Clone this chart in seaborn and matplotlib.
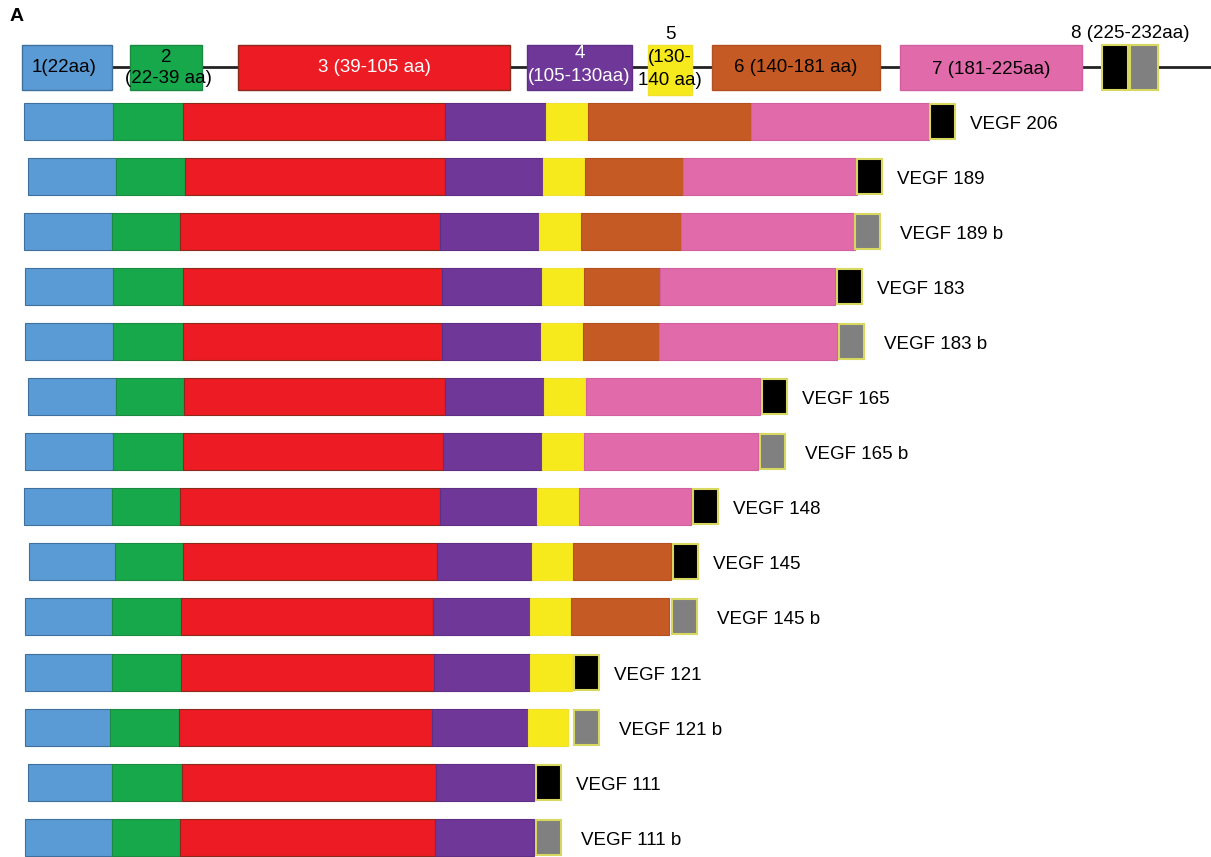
import numpy as np
import matplotlib
matplotlib.use("Agg")
import matplotlib.pyplot as plt
import seaborn as sns

# exon map (top row): labels, drawn start/length in the picture's scale
exon_names = ["1(22aa)", "2\n(22-39 aa)", "3 (39-105 aa)", "4\n(105-130aa)",
              "5", "6 (140-181 aa)", "7 (181-225aa)", "8 (225-232aa)"]
exon_start = [22, 130, 238, 527, 648, 712, 900, 1102]
exon_len = [90, 72, 272, 105, 44, 168, 182, 56]

# isoforms
isoforms = ["VEGF 206", "VEGF 189", "VEGF 189 b", "VEGF 183", "VEGF 183 b",
            "VEGF 165", "VEGF 165 b", "VEGF 148", "VEGF 145", "VEGF 145 b",
            "VEGF 121", "VEGF 121 b", "VEGF 111", "VEGF 111 b"]
len_e1 = [89, 88, 88, 88, 88, 88, 88, 88, 86, 87, 87, 85, 84, 87]
len_e2 = [70, 69, 68, 70, 70, 68, 70, 68, 68, 69, 69, 69, 70, 68]
len_e3 = [262, 260, 260, 259, 259, 261, 260, 260, 254, 252, 253, 253, 254, 255]
len_e4 = [101, 98, 99, 100, 99, 99, 99, 97, 95, 97, 96, 96, 98, 99]
len_e5 = [42, 42, 42, 42, 42, 42, 42, 42, 41, 41, 42, 40, 0, 0]
len_e6 = [163, 98, 100, 76, 76, 0, 0, 0, 98, 98, 0, 0, 0, 0]
len_e7 = [178, 174, 174, 175, 178, 174, 174, 112, 0, 0, 0, 0, 0, 0]
terminal = ["a", "a", "b", "a", "b", "a", "b", "a", "a", "b", "a", "b", "a", "b"]
term_gap = [1, 0, 0, 2, 2, 2, 2, 2, 2, 3, 2, 6, 2, 2]
row_start = [24, 28, 24, 25, 25, 28, 25, 24, 29, 25, 25, 25, 28, 25]

colors = ["#5b9bd5", "#17a84b", "#ed1c24", "#6f3798", "#f7ea1c",
          "#c55a24", "#e06aaa"]
edges = ["#3f6f9c", "#1c8a40", "#8a2a1c", "#5e2f85", "#f0e030",
         "#b35020", "#d060a0"]
term_color = {"a": "#000000", "b": "#808080"}

sns.set_theme(style="white")
plt.rcParams["font.family"] = ["Liberation Sans", "DejaVu Sans"]
plt.rcParams["text.color"] = "black"

fig = plt.figure(figsize=(12.11, 8.57), dpi=100)
ax = fig.add_axes([0, 0, 1, 1])
ax.set_xlim(0, 1211)
ax.set_ylim(857, 0)
ax.axis("off")

# top gene map
top_y = 67
ax.plot([112, 1211], [top_y, top_y], color="#222222", lw=2, zorder=1)
for i, name in enumerate(exon_names[:7]):
    h = 50 if i == 4 else 45
    ax.barh(top_y + (2.5 if i == 4 else 0), exon_len[i], left=exon_start[i],
            height=h, color=colors[i], edgecolor=edges[i], lw=1, zorder=2)
ax.barh(top_y, 26, left=exon_start[7], height=45, color="black",
        edgecolor="#d8d860", lw=1.5, zorder=2)
ax.barh(top_y, 28, left=exon_start[7] + 28, height=45, color="#808080",
        edgecolor="#d8d860", lw=1.5, zorder=2)

fs = 13.5
cx = [s + l / 2 for s, l in zip(exon_start, exon_len)]
ax.text(cx[0] - 3, top_y, exon_names[0], ha="center", va="center", fontsize=fs)
ax.text(cx[1], 57, "2", ha="center", va="center", fontsize=fs)
ax.text(cx[1] + 2, 78, "(22-39 aa)", ha="center", va="center", fontsize=fs)
ax.text(cx[2], top_y, exon_names[2], ha="center", va="center", fontsize=fs, color="white")
ax.text(cx[3], 53, "4", ha="center", va="center", fontsize=fs, color="white")
ax.text(cx[3], 76, "(105-130aa)", ha="center", va="center", fontsize=fs, color="white")
ax.text(cx[4], 34, "5", ha="center", va="center", fontsize=fs)
ax.text(cx[4], 57, "(130-", ha="center", va="center", fontsize=fs)
ax.text(cx[4], 80, "140 aa)", ha="center", va="center", fontsize=fs)
ax.text(cx[5], top_y, exon_names[5], ha="center", va="center", fontsize=fs)
ax.text(cx[6], top_y + 2, exon_names[6], ha="center", va="center", fontsize=fs)
ax.text(cx[7], 33, exon_names[7], ha="center", va="center", fontsize=fs)
ax.text(10, 16, "A", ha="left", va="center", fontsize=14, fontweight="bold")

# isoform rows
y_pos = 121 + 55.1 * np.arange(len(isoforms))
segs = np.array([len_e1, len_e2, len_e3, len_e4, len_e5, len_e6, len_e7], dtype=float)
left = np.array(row_start, dtype=float)
for k in range(segs.shape[0]):
    w = segs[k]
    m = w > 0
    ax.barh(y_pos[m], w[m], left=left[m], height=37, color=colors[k],
            edgecolor=edges[k], lw=0.8, zorder=2)
    left = left + w

for i, name in enumerate(isoforms):
    x0 = left[i] + term_gap[i]
    ax.barh(y_pos[i], 25, left=x0, height=35,
            color=term_color[terminal[i]], edgecolor="#d8d860", lw=1.5, zorder=3)
    ax.text(x0 + 25 + (15 if terminal[i] == "a" else 20), y_pos[i] + 3, name,
            ha="left", va="center", fontsize=fs)

fig.savefig("out.png", dpi=100)
